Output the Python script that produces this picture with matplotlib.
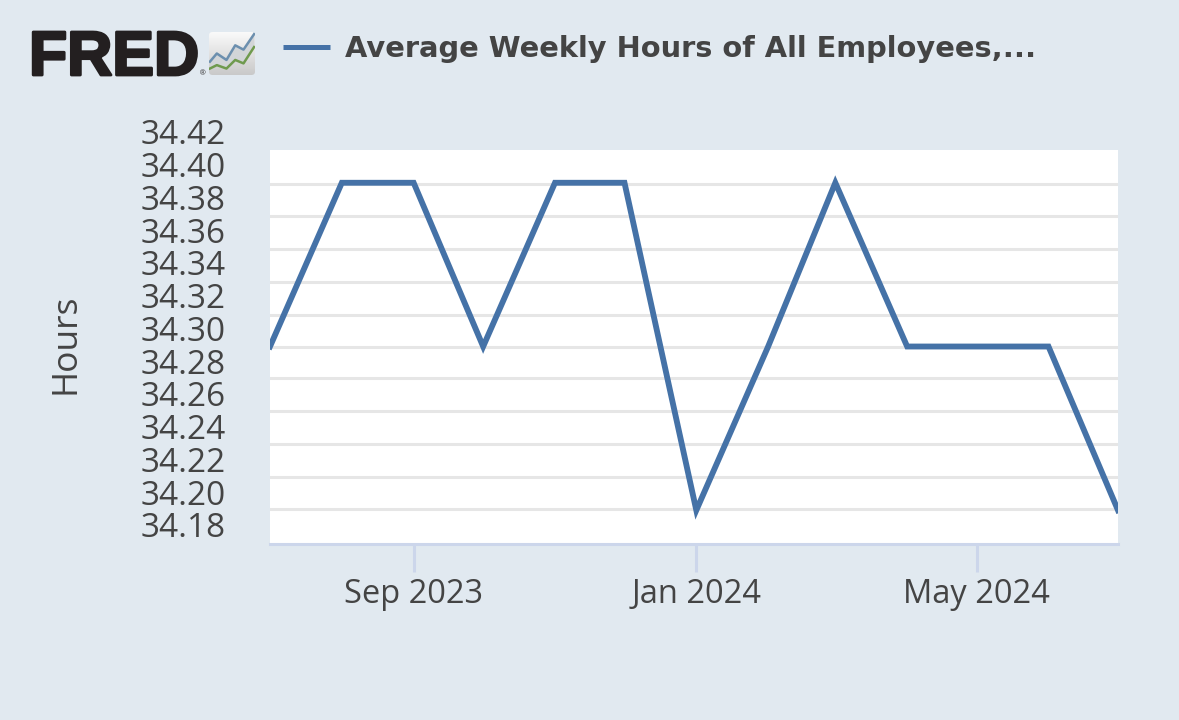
import pandas as pd
import numpy as np
import matplotlib
matplotlib.use("Agg")
import matplotlib.pyplot as plt
import matplotlib.dates as mdates
import matplotlib.patheffects as pe
from matplotlib.patches import FancyBboxPatch

# values
aylar = pd.to_datetime(["2023-07-01", "2023-08-01", "2023-09-01", "2023-10-01", "2023-11-01",
                        "2023-12-01", "2024-01-01", "2024-02-01", "2024-03-01", "2024-04-01",
                        "2024-05-01", "2024-06-01", "2024-07-01"])
saat = [34.289, 34.389, 34.389, 34.289, 34.389, 34.389, 34.189, 34.289, 34.389, 34.289, 34.289, 34.289, 34.189]

y_etiket = [34.42, 34.40, 34.38, 34.36, 34.34, 34.32, 34.30, 34.28, 34.26, 34.24, 34.22, 34.20, 34.18]
# the grid in the original does not sit on the labels
izgara = [34.3885, 34.3685, 34.3485, 34.3285, 34.3085, 34.2885, 34.2695, 34.2495, 34.2295, 34.2095, 34.1895]
x_tarih = pd.to_datetime(["2023-09-01", "2024-01-01", "2024-05-01"])
x_etiket = ["Sep 2023", "Jan 2024", "May 2024"]

baslik = "Average Weekly Hours of All Employees,..."
y_baslik = "Hours"

ikon_x = [0.02, 0.17, 0.38, 0.57, 0.75, 0.98]
ikon_mavi = [0.31, 0.50, 0.35, 0.69, 0.59, 0.95]
ikon_yesil = [0.15, 0.23, 0.15, 0.35, 0.27, 0.65]

arka = "#e1e9f0"
mavi = "#4572a7"
yazi = "#444444"

G, Y = 1179, 720
plt.rcParams["font.family"] = ["Open Sans", "DejaVu Sans"]

fig = plt.figure(figsize=(G / 100, Y / 100), dpi=100, facecolor=arka)

# axes runs above the white plot so the top labels can be drawn as ticks
ust, alt = 115, 544
ax = fig.add_axes([270 / G, 1 - alt / Y, 848 / G, (alt - ust) / Y])
ax.patch.set_alpha(0)

px = 0.02 / 32.75  # value per pixel
y_alt = 34.18 - (alt - 525) * px
y_ust = 34.18 + (525 - ust) * px
beyaz_ust = 34.18 + (525 - 150) * px

ax.set_xlim(aylar[0], aylar[-1])
ax.set_ylim(y_alt, y_ust)
ax.axhspan(y_alt, beyaz_ust, color="white", lw=0, zorder=0)
for g in izgara:
    ax.axhline(g, color="#e6e6e6", lw=2.2, zorder=1)

ax.plot(aylar, saat, color=mavi, lw=4.2, zorder=3, solid_joinstyle="miter")

for s in ["top", "left", "right"]:
    ax.spines[s].set_visible(False)
ax.spines["bottom"].set_color("#ccd6eb")
ax.spines["bottom"].set_linewidth(2.2)

ax.set_yticks(y_etiket)
ax.set_yticklabels(["%.2f" % v for v in y_etiket], fontsize=24, color=yazi)
ax.tick_params(axis="y", length=0, pad=32)
ax.set_xticks(x_tarih)
ax.set_xticklabels(x_etiket, fontsize=23.5, color=yazi)
ax.tick_params(axis="x", length=20, width=2.2, color="#ccd6eb", pad=4.5)
ax.xaxis.set_major_locator(plt.FixedLocator(mdates.date2num(x_tarih)))

fig.text(66 / G, 1 - 344 / Y, y_baslik, rotation=90, fontsize=25.5, color=yazi, ha="center", va="center")

# legend line and title, DejaVu bold is wide enough for the spaced out original
fig.add_artist(plt.Line2D([283 / G, 330 / G], [1 - 47 / Y, 1 - 47 / Y], color=mavi, lw=3.6, solid_capstyle="butt"))
fig.text(345 / G, 1 - 57 / Y, baslik, family="DejaVu Sans", fontsize=20.8, fontweight="bold", color=yazi,
         ha="left", va="baseline")

# FRED logo
fig.text(29 / G, 1 - 75 / Y, "FRED", family="Liberation Sans", fontsize=45, fontweight="bold", color="#231f20",
         ha="left", va="baseline", path_effects=[pe.withStroke(linewidth=2, foreground="#231f20")])
fig.text(200 / G, 1 - 75 / Y, "®", family="Liberation Sans", fontsize=5.5, color="#231f20", ha="left", va="baseline")

ikon = fig.add_axes([209 / G, 1 - 75 / Y, 46 / G, 43 / Y])
ikon.axis("off")
ikon.set_xlim(0, 1)
ikon.set_ylim(0, 1)
kutu = FancyBboxPatch((0, 0), 1, 1, boxstyle="round,pad=0,rounding_size=0.08", transform=ikon.transData,
                      facecolor="none", edgecolor="none")
ikon.add_patch(kutu)
renk = np.linspace(0, 1, 60)[:, None]
resim = ikon.imshow(renk, extent=(0, 1, 0, 1), aspect="auto", origin="upper", vmin=0, vmax=1,
                    cmap=matplotlib.colors.LinearSegmentedColormap.from_list("g", ["#fafafa", "#c9c9c9"]))
resim.set_clip_path(kutu)
ikon.fill_between(ikon_x, ikon_yesil, ikon_mavi, color="#d2d5d8", lw=0)
ikon.plot(ikon_x, ikon_mavi, color="#6c8fae", lw=1.8)
ikon.plot(ikon_x, ikon_yesil, color="#6f9a4e", lw=1.8)

fig.savefig("out.png", dpi=100, facecolor=arka)
